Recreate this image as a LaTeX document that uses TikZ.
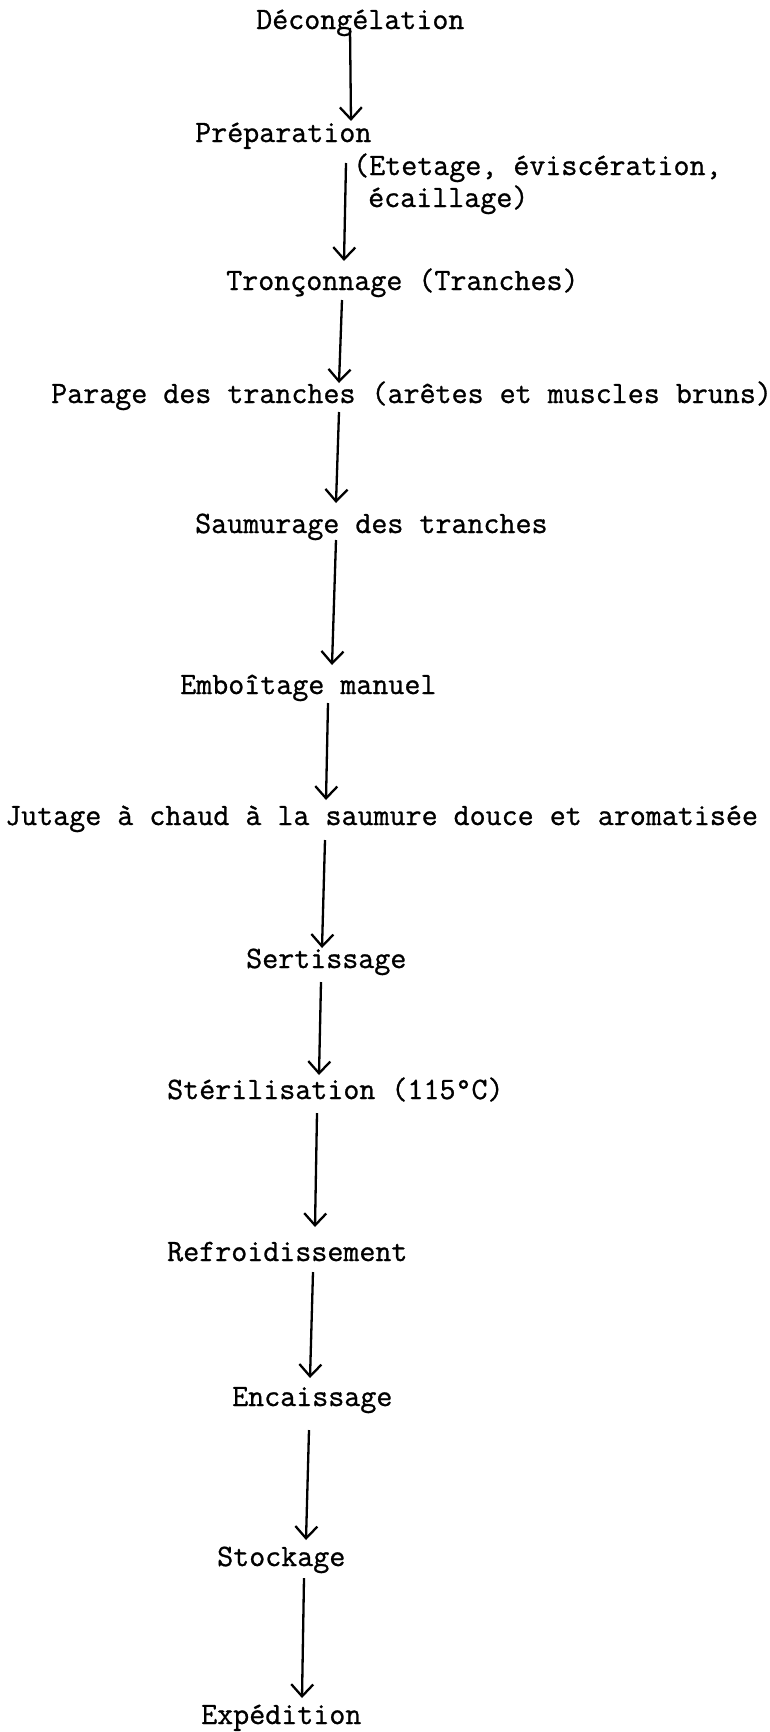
\documentclass[tikz,border=0pt]{standalone}
\usepackage{fontspec}
\newfontfamily\twfont{Latin Modern Mono}[FakeBold=0.9]
\usetikzlibrary{arrows.meta}
\begin{document}
\begin{tikzpicture}[x=1pt,y=-1pt,
  lbl/.style={anchor=base west, inner sep=0pt, font=\twfont\fontsize{31.1pt}{32pt}\selectfont, text=black},
  flow/.style={line width=2.3pt, draw=black, -{Straight Barb[length=12pt,width=22pt,line width=2.3pt]}}]
\useasboundingbox[fill=white] (0,0) rectangle (769,1732);
% steps
\node[lbl] (dec)  at (256,29)   {Décongélation};
\node[lbl] (prep) at (195,142)  {Préparation};
\node[lbl] (prepd) at (353,175) {(Etetage, éviscération,};
\node[lbl] (prepe) at (368,207) {écaillage)};
\node[lbl] (tron) at (226,290)  {Tronçonnage (Tranches)};
\node[lbl] (par)  at (51,403)   {Parage des tranches (arêtes et muscles bruns)};
\node[lbl] (sau)  at (195,533)  {Saumurage des tranches};
\node[lbl] (emb)  at (180,694)  {Emboîtage manuel};
\node[lbl] (jut)  at (5,825)    {Jutage à chaud à la saumure douce et aromatisée};
\node[lbl] (ser)  at (246,968)  {Sertissage};
\node[lbl] (ste)  at (167,1099) {Stérilisation (115°C)};
\node[lbl] (ref)  at (167,1261) {Refroidissement};
\node[lbl] (enc)  at (232,1406) {Encaissage};
\node[lbl] (sto)  at (217,1566) {Stockage};
\node[lbl] (exp)  at (201,1724) {Expédition};
% arrow end points
\coordinate (a1s) at (350,28);   \coordinate (a1e) at (351,121);
\coordinate (a2s) at (346,163);  \coordinate (a2e) at (344,261);
\coordinate (a3s) at (342,300);  \coordinate (a3e) at (339,383);
\coordinate (a4s) at (339,412);  \coordinate (a4e) at (336,503);
\coordinate (a5s) at (336,540);  \coordinate (a5e) at (332,665);
\coordinate (a6s) at (328,703);  \coordinate (a6e) at (326,800);
\coordinate (a7s) at (325,840);  \coordinate (a7e) at (322,948);
\coordinate (a8s) at (321,982);  \coordinate (a8e) at (319,1075);
\coordinate (a9s) at (317,1113); \coordinate (a9e) at (315,1227);
\coordinate (a10s) at (313,1272); \coordinate (a10e) at (310,1378);
\coordinate (a11s) at (309,1430); \coordinate (a11e) at (306,1540);
\coordinate (a12s) at (304,1578); \coordinate (a12e) at (302,1698);
% connectors
\draw[flow] (a1s) -- (a1e);
\draw[flow] (a2s) -- (a2e);
\draw[flow] (a3s) -- (a3e);
\draw[flow] (a4s) -- (a4e);
\draw[flow] (a5s) -- (a5e);
\draw[flow] (a6s) -- (a6e);
\draw[flow] (a7s) -- (a7e);
\draw[flow] (a8s) -- (a8e);
\draw[flow] (a9s) -- (a9e);
\draw[flow] (a10s) -- (a10e);
\draw[flow] (a11s) -- (a11e);
\draw[flow] (a12s) -- (a12e);
\end{tikzpicture}
\end{document}
